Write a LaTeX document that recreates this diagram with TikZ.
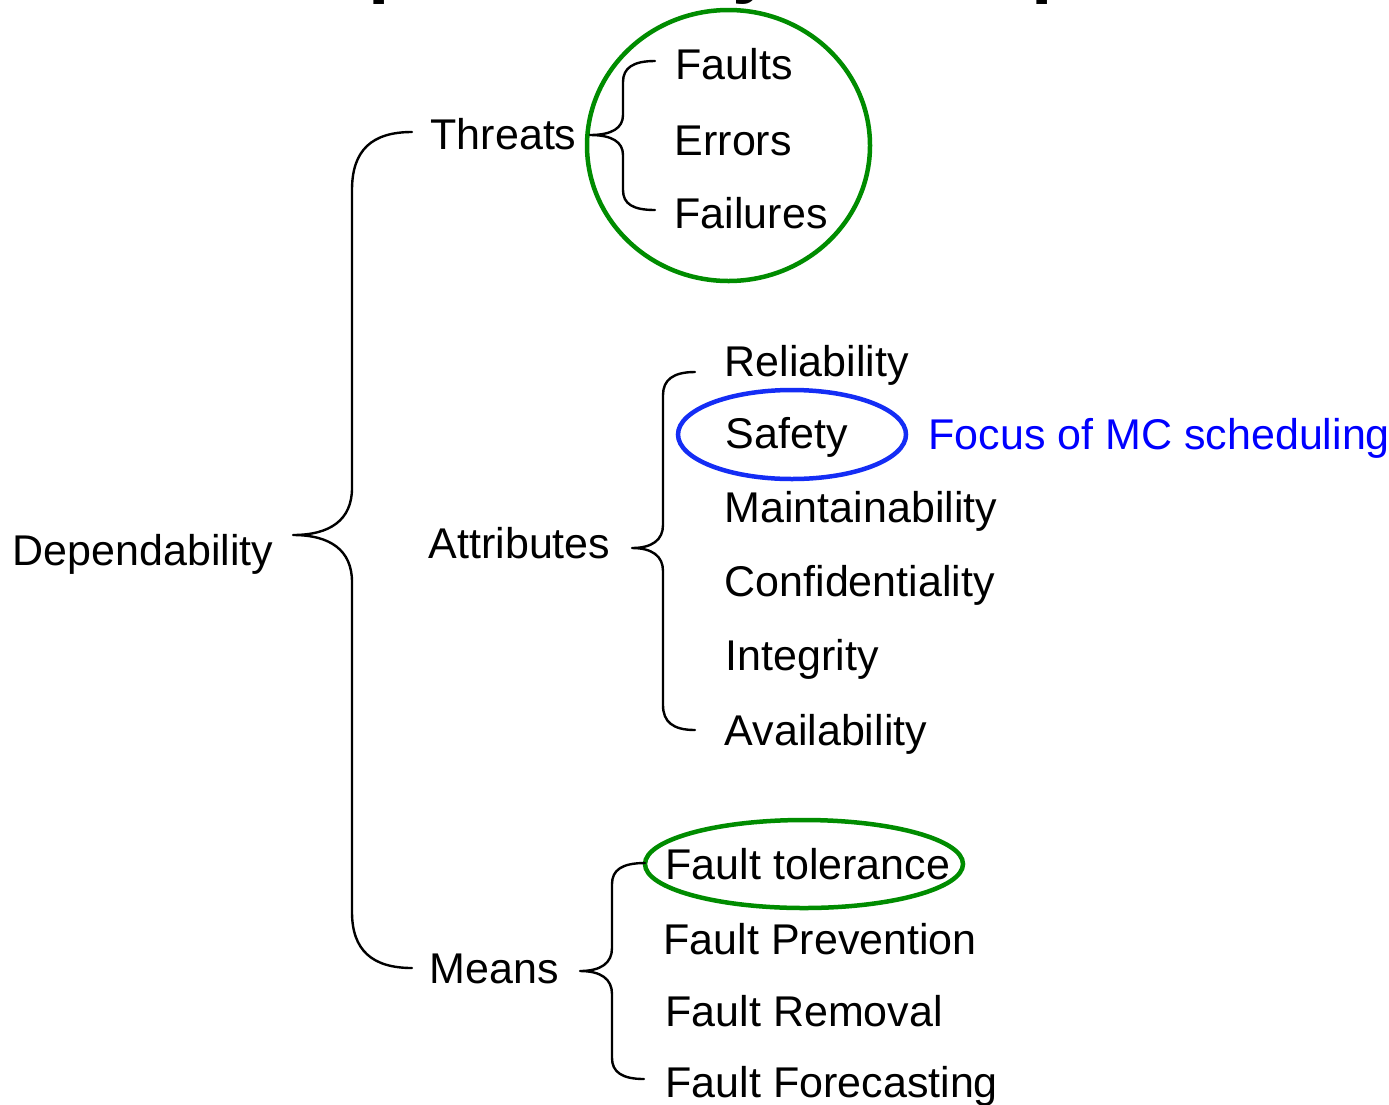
\documentclass[tikz,border=0pt]{standalone}
\usepackage{fontspec}
\setmainfont{Liberation Sans}
\usetikzlibrary{shapes.geometric}
\definecolor{ringgreen}{RGB}{0,140,0}
\definecolor{ringblue}{RGB}{20,45,245}
\definecolor{noteblue}{RGB}{0,0,255}
\begin{document}
\begin{tikzpicture}[x=1pt,y=-1pt,
  txt/.style={anchor=base west,inner sep=0pt,font=\fontsize{43}{50}\selectfont},
  bracepath/.style={line width=2.4pt,line cap=round,line join=round},
  ring/.style={ellipse,draw,line width=4.5pt,inner sep=0pt}]
\useasboundingbox (0,0) rectangle (1389,1104);
\clip (0,0) rectangle (1389,1104);
\fill[white] (0,0) rectangle (1389,1104);

% cut-off title
\node[anchor=base west,inner sep=0pt,font=\bfseries\fontsize{77}{80}\selectfont] (title) at (270,-11.5) {Dependability Concepts};

% rings
\node[ring,draw=ringgreen,minimum width=283pt,minimum height=271pt] (threatring) at (728.5,145.5) {};
\node[ring,draw=ringblue,minimum width=228pt,minimum height=89pt] (safetyring) at (792,434.5) {};
\node[ring,draw=ringgreen,minimum width=318pt,minimum height=88pt] (ftring) at (804,864) {};

% texts
\node[txt] (dep) at (12.5,565) {Dependability};
\node[txt] (thr) at (430.5,149) {Threats};
\node[txt] (att) at (428.5,558) {Attributes};
\node[txt] (mea) at (429.5,983) {Means};

\node[txt] (fau) at (675.5,79) {Faults};
\node[txt] (err) at (674.5,155) {Errors};
\node[txt] (fai) at (674.5,228) {Failures};

\node[txt] (rel) at (724.5,376) {Reliability};
\node[txt] (saf) at (725.5,448) {Safety};
\node[txt] (mai) at (724.5,522) {Maintainability};
\node[txt] (con) at (724.5,596) {Confidentiality};
\node[txt] (int) at (725.5,670) {Integrity};
\node[txt] (ava) at (724.5,745) {Availability};
\node[txt,text=noteblue] (foc) at (928.5,449) {Focus of MC scheduling};

\node[txt] (ftl) at (665.5,879) {Fault tolerance};
\node[txt] (fpr) at (663.5,954) {Fault Prevention};
\node[txt] (frm) at (665.5,1026) {Fault Removal};
\node[txt] (ffo) at (665.5,1097) {Fault Forecasting};

% braces
\draw[bracepath] (412,132) .. controls (372,132) and (352,150) .. (352,190)
  -- (352,488) .. controls (352,520) and (330,535) .. (293,535)
  .. controls (330,535) and (352,550) .. (352,582)
  -- (352,912) .. controls (352,950) and (372,968) .. (412,968);

\draw[bracepath] (655,61) .. controls (633,61) and (623,68) .. (623,82)
  -- (623,115) .. controls (623,128) and (612,135) .. (590,135)
  .. controls (612,135) and (623,142) .. (623,155)
  -- (623,190) .. controls (623,204) and (633,210) .. (655,210);

\draw[bracepath] (695,372) .. controls (673,372) and (663,380) .. (663,395)
  -- (663,525) .. controls (663,540) and (652,548) .. (632,548)
  .. controls (652,548) and (663,556) .. (663,571)
  -- (663,705) .. controls (663,722) and (673,730) .. (695,730);

\draw[bracepath] (645,863) .. controls (622,863) and (612,870) .. (612,884)
  -- (612,948) .. controls (612,963) and (601,971) .. (580,971)
  .. controls (601,971) and (612,979) .. (612,994)
  -- (612,1058) .. controls (612,1072) and (622,1079) .. (644,1079);
\end{tikzpicture}
\end{document}
